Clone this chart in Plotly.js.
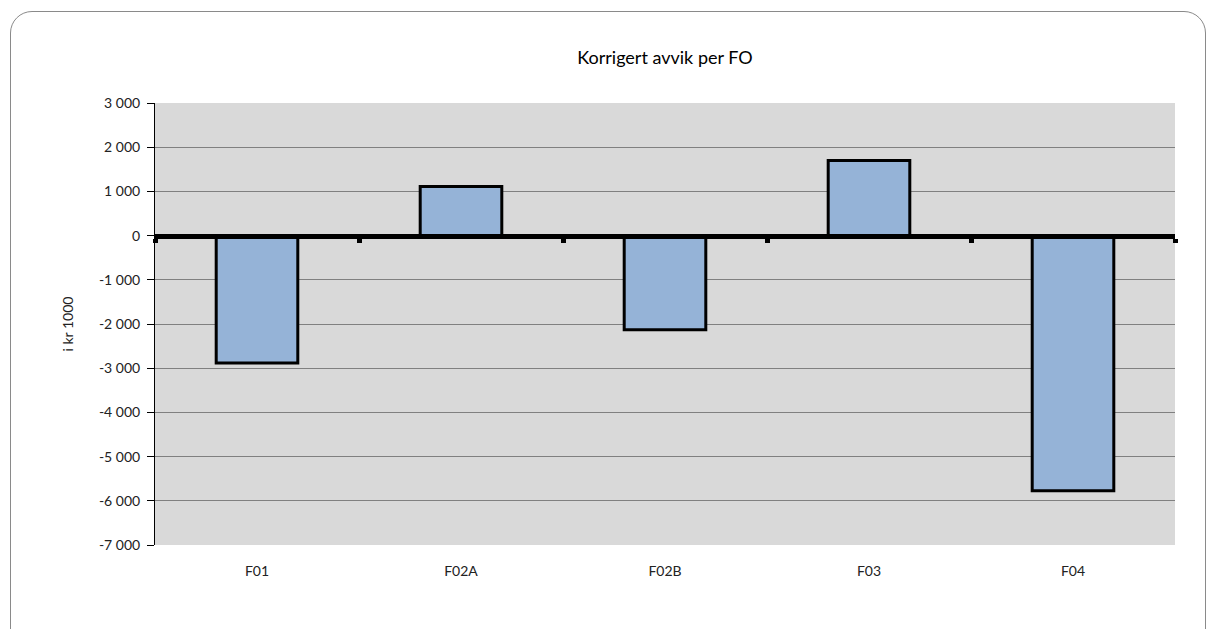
<!DOCTYPE html>
<html>
<head>
<meta charset="utf-8">
<script src="https://cdn.plot.ly/plotly-3.0.1.min.js"></script>
<style>
  html, body { margin: 0; padding: 0; background: #fff; overflow: hidden; }
  #wrap { position: relative; width: 1217px; height: 629px; }
  #chart { position: absolute; left: 0; top: 0; width: 1217px; height: 629px; }
  #frame { position: absolute; left: 10px; top: 11px; width: 1196px; height: 660px;
           border: 1px solid #8a8a8a; border-radius: 22px; pointer-events: none; box-sizing: border-box; }
</style>
</head>
<body>
<div id="wrap">
  <div id="chart"></div>
  <div id="frame"></div>
</div>
<script>
const categories = ["F01", "F02A", "F02B", "F03", "F04"];
const values = [-2880, 1110, -2130, 1700, -5770];
const yTickVals = [3000, 2000, 1000, 0, -1000, -2000, -3000, -4000, -5000, -6000, -7000];
const yTickText = ["3 000", "2 000", "1 000", "0", "-1 000", "-2 000", "-3 000", "-4 000", "-5 000", "-6 000", "-7 000"];
const boundaryTicks = [-0.5, 0.5, 1.5, 2.5, 3.5, 4.5];

const font = "Lato, 'Open Sans', sans-serif";

const trace = {
  type: "bar",
  x: categories,
  y: values,
  marker: { color: "#95B3D7", line: { color: "#000000", width: 3 } },
  hoverinfo: "x+y"
};

const layout = {
  width: 1217,
  height: 629,
  margin: { l: 155, r: 42, t: 103, b: 84 },
  paper_bgcolor: "rgba(0,0,0,0)",
  plot_bgcolor: "#D9D9D9",
  showlegend: false,
  bargap: 0.6,
  title: {
    text: "Korrigert avvik per FO",
    font: { family: font, size: 18, color: "#000" },
    x: 0.5, xanchor: "center", xref: "paper",
    y: 0.909, yref: "container", yanchor: "middle"
  },
  xaxis: {
    type: "category",
    range: [-0.5, 4.5],
    showline: false,
    showgrid: false,
    zeroline: false,
    ticks: "",
    tickfont: { family: font, size: 14, color: "#222" },
    ticklabelstandoff: 16
  },
  xaxis2: {
    overlaying: "x",
    anchor: "free",
    position: 0.7,
    range: [-0.5, 4.5],
    showline: true,
    linecolor: "#000",
    linewidth: 5,
    showgrid: false,
    zeroline: false,
    tickmode: "array",
    tickvals: boundaryTicks,
    ticks: "outside",
    ticklen: 4,
    tickwidth: 5,
    tickcolor: "#000",
    showticklabels: false,
    layer: "above traces"
  },
  yaxis: {
    range: [-7000, 3000],
    tickmode: "array",
    tickvals: yTickVals,
    ticktext: yTickText,
    showgrid: true,
    gridcolor: "#808080",
    gridwidth: 1,
    zeroline: false,
    showline: true,
    linecolor: "#000",
    linewidth: 1,
    ticks: "outside",
    ticklen: 7,
    tickcolor: "#000",
    ticklabelstandoff: 4,
    tickfont: { family: font, size: 14, color: "#222" },
    title: { text: "i kr 1000", font: { family: font, size: 14, color: "#222" }, standoff: 22 }
  }
};

const anchorTrace = { type: "scatter", x: [0], y: [0], xaxis: "x2", yaxis: "y", mode: "markers",
  marker: { opacity: 0 }, hoverinfo: "skip", showlegend: false };

Plotly.newPlot("chart", [trace, anchorTrace], layout, { displayModeBar: false, staticPlot: false });
</script>
</body>
</html>
